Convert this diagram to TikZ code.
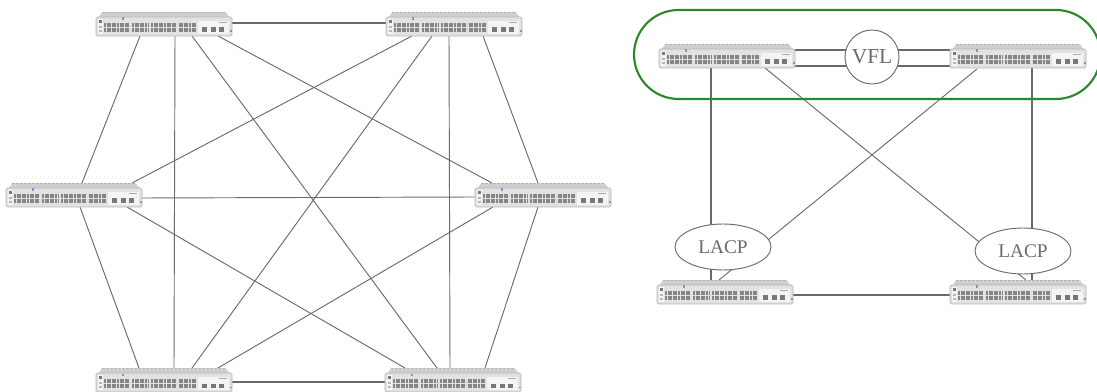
\documentclass[tikz,border=0pt]{standalone}
\usepackage{fontspec}
\setmainfont{Liberation Serif}
\usetikzlibrary{calc,backgrounds,shapes.geometric}
\definecolor{linkc}{HTML}{6A6A6A}
\definecolor{bodyc}{HTML}{E2E2E2}
\definecolor{topc}{HTML}{CFCFCF}
\definecolor{edgec}{HTML}{B4B4B4}
\definecolor{portc}{HTML}{858585}
\definecolor{sfpc}{HTML}{787878}
\definecolor{panelc}{HTML}{F4F4F4}
\definecolor{dotc}{HTML}{9A86CC}
\definecolor{ringc}{HTML}{2A8A2A}
\tikzset{
  x=0.75pt,y=-0.75pt,
  switchbox/.style={minimum width=102pt,minimum height=18pt,inner sep=0pt,outer sep=0pt,anchor=north west},
  thinlink/.style={draw=linkc,line width=0.7pt},
  thicklink/.style={draw=linkc,line width=1.15pt},
  oval/.style={draw=linkc,line width=0.7pt,fill=white,text=linkc,inner sep=0pt},
  portrow/.style={draw=portc,line width=3.1pt,dash pattern=on 1.5pt off 0.45pt},
}
\newcommand{\switchat}[3]{%
  \node[switchbox] (#1) at (#2,#3) {};
  \begin{scope}[shift={(#2,#3)}]
    \fill[topc] (2,6) -- (6,0.5) -- (130,0.5) -- (134,6) -- cycle;
    \draw[edgec,line width=0.7pt,dash pattern=on 2pt off 1pt] (6,0.5) -- (130,0.5);
    \fill[bodyc,draw=edgec,line width=0.6pt,rounded corners=1.2pt] (0,5) rectangle (136,24);
    \fill[panelc] (102,9) rectangle (133,22);
    \fill[panelc] (2,7) rectangle (7,22);
    \fill[sfpc] (3,8) rectangle (6,11);
    \fill[portc!60] (3,14) rectangle (6,16);
    \fill[portc!60] (3,18) rectangle (6,20);
    \foreach \xa/\xb in {8/34,36/53,55/81,82.5/100}{
      \draw[portrow] (\xa,13.4) -- (\xb,13.4);
      \draw[portrow] (\xa,18.2) -- (\xb,18.2);
    }
    \foreach \xa in {106,115,123}{\fill[sfpc] (\xa,15.5) rectangle (\xa+5,20);}
    \fill[dotc] (26,5.5) rectangle (28,8);
    \fill[dotc] (133.5,18.5) rectangle (136,20);
    \fill[portc!70] (123,10) rectangle (131,11);
  \end{scope}%
}
\begin{document}
\begin{tikzpicture}
\useasboundingbox (0,0) rectangle (1097,392);
\begin{scope}
\clip (0,0) rectangle (1097,392);
\draw[draw=ringc,line width=1.6pt,rounded corners=33.4pt] (634,10) rectangle (1100.5,99);
\end{scope}
% left mesh
\switchat{a}{96}{12}
\switchat{b}{386}{12}
\switchat{c}{6}{183}
\switchat{d}{475}{183}
\switchat{e}{96}{368}
\switchat{f}{385}{368}
% right pair
\switchat{g}{659}{44}
\switchat{h}{950}{44}
\switchat{i}{657}{280}
\switchat{j}{950}{280}
\node[oval,circle,minimum size=40.5pt,font=\fontsize{16}{18}\selectfont] (vfl) at (872,57) {VFL};
\node[oval,ellipse,minimum width=72pt,minimum height=34.5pt,font=\fontsize{14.5}{16}\selectfont] (lacpa) at (723,247) {LACP};
\node[oval,ellipse,minimum width=72pt,minimum height=34.5pt,font=\fontsize{14.5}{16}\selectfont] (lacpb) at (1023,251) {LACP};
\begin{scope}[on background layer]
\draw[thicklink] ($(a.south east)+(0,-13)$) -- ($(b.south west)+(0,-13)$);
\draw[thicklink] ($(e.south east)+(0,-10)$) -- ($(f.south west)+(0,-10)$);
\draw[thinlink] ($(a.south west)+(44,0)$) -- ($(c.north west)+(76,0)$);
\draw[thinlink] ($(a.south west)+(79,0)$) -- ($(e.north west)+(78,0)$);
\draw[thinlink] ($(a.south west)+(96,0)$) -- ($(f.north west)+(52,0)$);
\draw[thinlink] ($(a.south west)+(122,0)$) -- ($(d.north west)+(17,0)$);
\draw[thinlink] ($(b.south west)+(26,0)$) -- ($(c.north west)+(126,0)$);
\draw[thinlink] ($(b.south west)+(46,0)$) -- ($(e.north west)+(96,0)$);
\draw[thinlink] ($(b.south west)+(63,0)$) -- ($(f.north west)+(65,0)$);
\draw[thinlink] ($(b.south west)+(97,0)$) -- ($(d.north west)+(63,0)$);
\draw[thinlink] ($(c.south east)+(0,-9)$) -- ($(d.south west)+(0,-10)$);
\draw[thinlink] ($(c.south west)+(74,0)$) -- ($(e.north west)+(43,0)$);
\draw[thinlink] ($(c.south west)+(121,0)$) -- ($(f.north west)+(20,0)$);
\draw[thinlink] ($(d.south west)+(18,0)$) -- ($(e.north west)+(122,0)$);
\draw[thinlink] ($(d.south west)+(63,0)$) -- ($(f.north west)+(100,0)$);
% right
\draw[thicklink] ($(g.south east)+(0,-18)$) -- ($(h.south west)+(0,-18)$);
\draw[thicklink] ($(g.south east)+(0,-2)$) -- ($(h.south west)+(0,-2)$);
\draw[thicklink] ($(i.south east)+(0,-9)$) -- ($(j.south west)+(0,-9)$);
\draw[thicklink] ($(g.south west)+(52,0)$) -- ($(i.north west)+(54,0)$);
\draw[thicklink] ($(h.south west)+(82,0)$) -- ($(j.north west)+(82,0)$);
\draw[thinlink] ($(g.south west)+(106,0)$) -- ($(j.north west)+(76,0)$);
\draw[thinlink] ($(h.south west)+(27,1)$) -- ($(i.north west)+(62,0)$);
\end{scope}
\end{tikzpicture}
\end{document}
